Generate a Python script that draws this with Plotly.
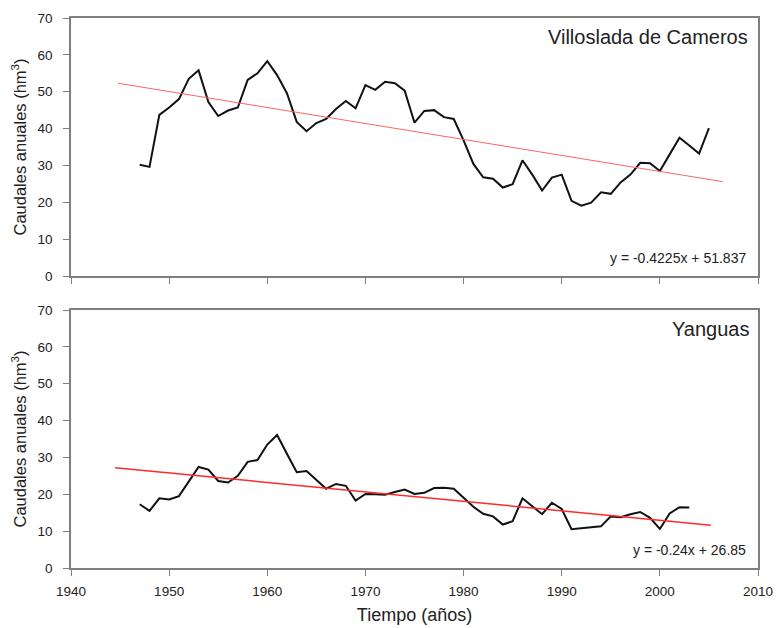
import plotly.graph_objects as go

years_top = list(range(1947, 2006))
villoslada = [30.2, 29.6, 43.7, 45.7, 48.0, 53.5, 55.8, 47.2, 43.4, 44.9,
              45.7, 53.2, 55.0, 58.3, 54.5, 49.6, 41.8, 39.3, 41.5, 42.6,
              45.3, 47.5, 45.5, 51.8, 50.5, 52.7, 52.3, 50.3, 41.6, 44.8,
              45.0, 43.1, 42.6, 36.8, 30.4, 26.8, 26.4, 24.0, 24.9, 31.4,
              27.5, 23.2, 26.7, 27.5, 20.4, 19.1, 19.9, 22.7, 22.3, 25.4,
              27.5, 30.7, 30.6, 28.5, 33.0, 37.5, 35.4, 33.2, 40.1]

years_bot = list(range(1947, 2004))
yanguas = [17.3, 15.5, 18.9, 18.6, 19.5, 23.4, 27.4, 26.7, 23.6, 23.2,
           25.0, 28.8, 29.3, 33.5, 36.1, 31.0, 26.0, 26.3, 24.0, 21.5,
           22.8, 22.3, 18.3, 20.1, 20.0, 19.9, 20.6, 21.3, 20.1, 20.4,
           21.7, 21.8, 21.5, 19.0, 16.6, 14.7, 14.0, 11.8, 12.7, 18.9,
           16.8, 14.6, 17.7, 16.0, 10.5, 10.7, 11.1, 11.3, 14.0, 13.8,
           14.6, 15.2, 13.6, 10.6, 14.8, 16.5, 16.4]

trend_top_years = [1944.8, 2006.4]
trend_top_vals = [52.3, 25.6]
trend_bot_years = [1944.5, 2005.2]
trend_bot_vals = [27.2, 11.6]

title_top = "Villoslada de Cameros"
title_bot = "Yanguas"
eq_top = "y = -0.4225x + 51.837"
eq_bot = "y = -0.24x + 26.85"
x_ticks = [1940, 1950, 1960, 1970, 1980, 1990, 2000, 2010]
y_ticks = [0, 10, 20, 30, 40, 50, 60, 70]

FONT = "Liberation Sans, Arial, sans-serif"
AX = "#7f7f7f"
TXT = "#222222"

W, H = 776, 628
ml, mr, mt, mb = 71, 18, 18, 60
ph = H - mt - mb
top_dom = [(568 - 276) / ph, 1.0]
bot_dom = [0.0, (568 - 310) / ph]

fig = go.Figure()
fig.add_trace(go.Scatter(x=years_top, y=villoslada, mode="lines",
                         line=dict(color="#111111", width=2), xaxis="x", yaxis="y"))
fig.add_trace(go.Scatter(x=trend_top_years, y=trend_top_vals, mode="lines",
                         line=dict(color="#ff6464", width=1), xaxis="x", yaxis="y"))
fig.add_trace(go.Scatter(x=years_bot, y=yanguas, mode="lines",
                         line=dict(color="#111111", width=2), xaxis="x2", yaxis="y2"))
fig.add_trace(go.Scatter(x=trend_bot_years, y=trend_bot_vals, mode="lines",
                         line=dict(color="#ff2a2a", width=1.5), xaxis="x2", yaxis="y2"))

xcommon = dict(range=[1940, 2010], tickvals=x_ticks, ticks="outside", ticklen=6,
               tickcolor=AX, showline=True, linecolor=AX, linewidth=1.5, mirror=True,
               showgrid=False, zeroline=False, ticklabelstandoff=4, automargin=False,
               tickfont=dict(family=FONT, size=13.5, color=TXT))
ycommon = dict(range=[0, 70], tickvals=y_ticks, ticks="outside", ticklen=6,
               tickcolor=AX, showline=True, linecolor=AX, linewidth=1.5, mirror=True,
               showgrid=False, zeroline=False, ticklabelstandoff=8, automargin=False,
               tickfont=dict(family=FONT, size=13.5, color=TXT),
               title=dict(text="Caudales anuales (hm<sup>3</sup>)",
                          font=dict(family=FONT, size=16.5, color=TXT), standoff=7))

fig.update_layout(
    width=W, height=H,
    margin=dict(l=ml, r=mr, t=mt, b=mb, autoexpand=False),
    paper_bgcolor="white", plot_bgcolor="white",
    showlegend=False,
    xaxis=dict(xcommon, domain=[0, 1], anchor="y", showticklabels=False),
    yaxis=dict(ycommon, domain=top_dom, anchor="x"),
    xaxis2=dict(xcommon, domain=[0, 1], anchor="y2",
                title=dict(text="Tiempo (años)", font=dict(family=FONT, size=18, color=TXT),
                           standoff=10)),
    yaxis2=dict(ycommon, domain=bot_dom, anchor="x2"),
    annotations=[
        dict(text=title_top, xref="x domain", yref="y domain", x=0.988, y=0.926,
             xanchor="right", yanchor="middle", showarrow=False,
             font=dict(family=FONT, size=20, color=TXT)),
        dict(text=eq_top, xref="x domain", yref="y domain", x=0.985, y=0.07,
             xanchor="right", yanchor="middle", showarrow=False,
             font=dict(family=FONT, size=14, color=TXT)),
        dict(text=title_bot, xref="x2 domain", yref="y2 domain", x=0.99, y=0.926,
             xanchor="right", yanchor="middle", showarrow=False,
             font=dict(family=FONT, size=20, color=TXT)),
        dict(text=eq_bot, xref="x2 domain", yref="y2 domain", x=0.985, y=0.07,
             xanchor="right", yanchor="middle", showarrow=False,
             font=dict(family=FONT, size=14, color=TXT)),
    ],
)

fig.write_html("out.html")
